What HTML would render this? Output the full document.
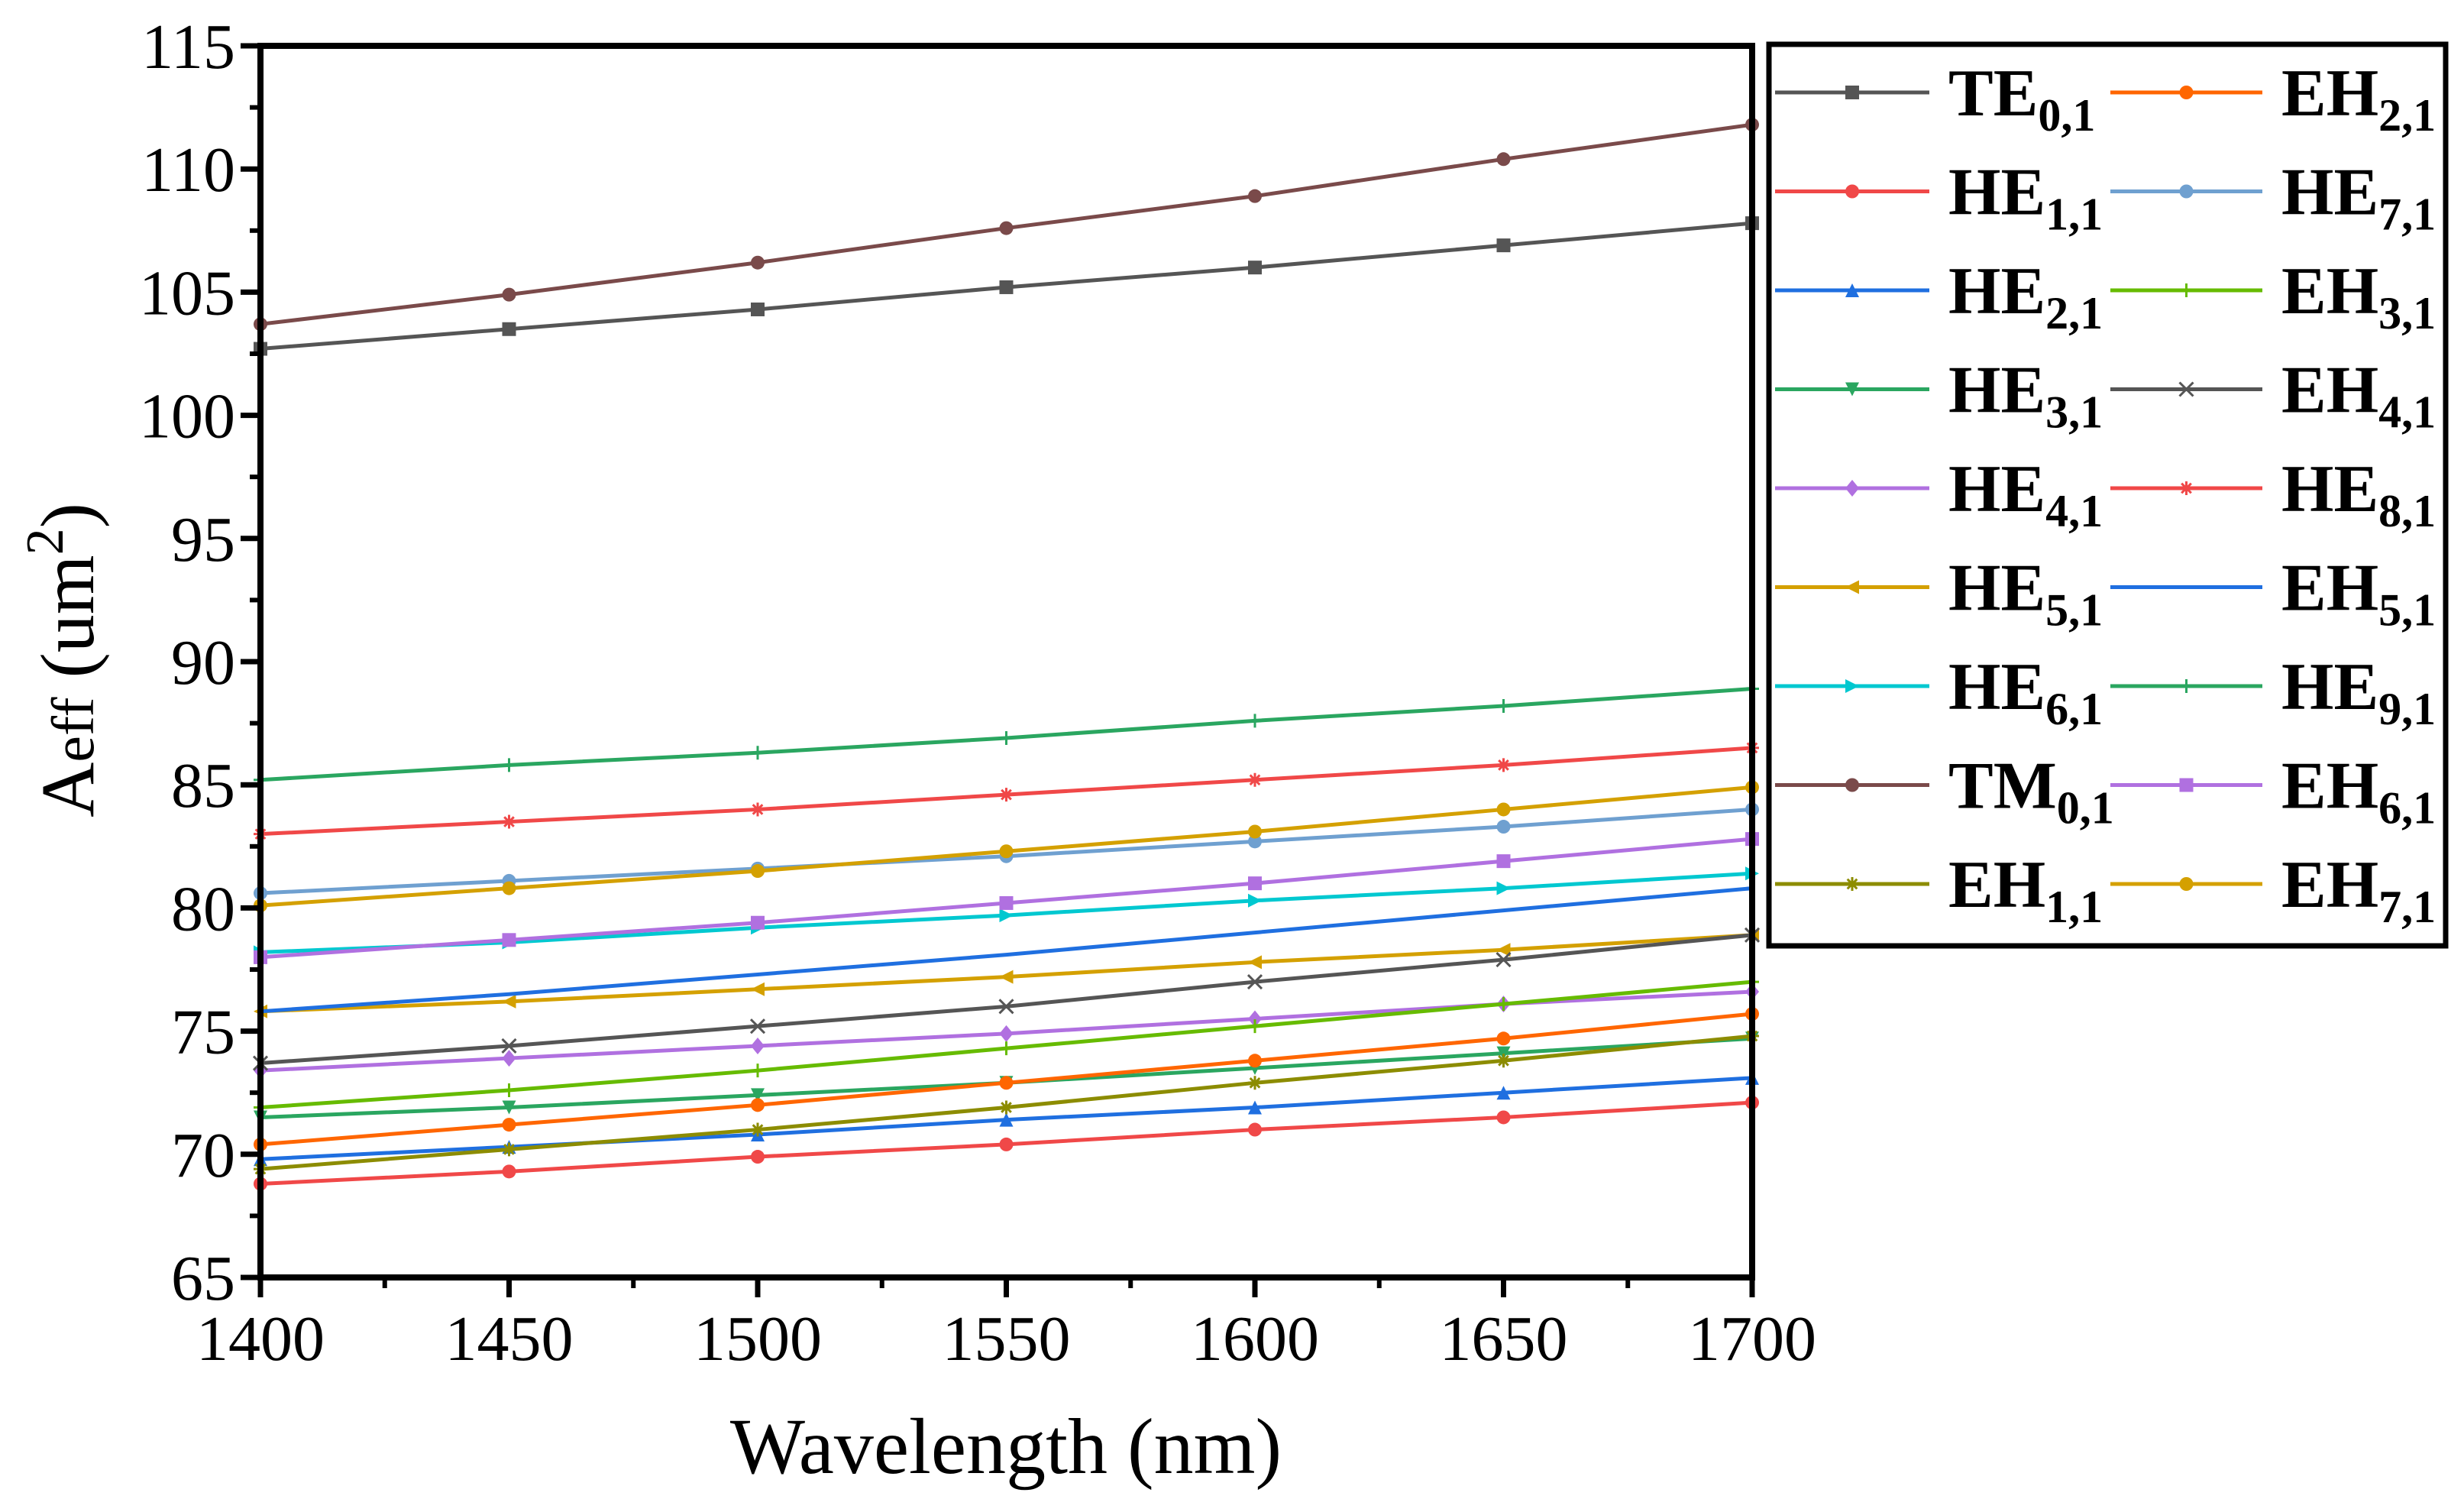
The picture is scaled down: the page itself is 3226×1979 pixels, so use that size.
<!DOCTYPE html>
<html><head><meta charset="utf-8"><style>
html,body{margin:0;padding:0;background:#fff}
svg{display:block}
text{font-family:"Liberation Serif",serif}
</style></head><body>
<svg id="chart" width="3226" height="1979" viewBox="0 0 3226 1979" xmlns="http://www.w3.org/2000/svg">
<g id="plot"></g>
<g id="axes"></g>
<g id="legend"></g>
<text x="1317" y="1928" font-size="104" text-anchor="middle">Wavelength (nm)</text>
<text transform="translate(122,864) rotate(-90)" font-size="100" text-anchor="middle">A<tspan font-size="78" dy="0">eff</tspan> (um<tspan font-size="70" dy="-40">2</tspan><tspan dy="40">)</tspan></text>
</svg>
<script>
const wavelengths = [1400,1450,1500,1550,1600,1650,1700];
const xTicks = [1400,1450,1500,1550,1600,1650,1700];
const yTicks = [65,70,75,80,85,90,95,100,105,110,115];
const seriesNames = ["TE","HE","HE","HE","HE","HE","HE","TM","EH","EH","HE","EH","EH","HE","EH","HE","EH","EH"];
const seriesSubs = ["0,1","1,1","2,1","3,1","4,1","5,1","6,1","0,1","1,1","2,1","7,1","3,1","4,1","8,1","5,1","9,1","6,1","7,1"];
const TE01 = [102.7,103.5,104.3,105.2,106.0,106.9,107.8];
const HE11 = [68.8,69.3,69.9,70.4,71.0,71.5,72.1];
const HE21 = [69.8,70.3,70.8,71.4,71.9,72.5,73.1];
const HE31 = [71.5,71.9,72.4,72.9,73.5,74.1,74.7];
const HE41 = [73.4,73.9,74.4,74.9,75.5,76.1,76.6];
const HE51 = [75.8,76.2,76.7,77.2,77.8,78.3,78.9];
const HE61 = [78.2,78.6,79.2,79.7,80.3,80.8,81.4];
const TM01 = [103.7,104.9,106.2,107.6,108.9,110.4,111.8];
const EH11 = [69.4,70.2,71.0,71.9,72.9,73.8,74.8];
const EH21 = [70.4,71.2,72.0,72.9,73.8,74.7,75.7];
const HE71 = [80.6,81.1,81.6,82.1,82.7,83.3,84.0];
const EH31 = [71.9,72.6,73.4,74.3,75.2,76.1,77.0];
const EH41 = [73.7,74.4,75.2,76.0,77.0,77.9,78.9];
const HE81 = [83.0,83.5,84.0,84.6,85.2,85.8,86.5];
const EH51 = [75.8,76.5,77.3,78.1,79.0,79.9,80.8];
const HE91 = [85.2,85.8,86.3,86.9,87.6,88.2,88.9];
const EH61 = [78.0,78.7,79.4,80.2,81.0,81.9,82.8];
const EH71 = [80.1,80.8,81.5,82.3,83.1,84.0,84.9];

const allSeries = [TE01,HE11,HE21,HE31,HE41,HE51,HE61,TM01,EH11,EH21,HE71,EH31,EH41,HE81,EH51,HE91,EH61,EH71];
const colors = ["#555555","#f04848","#1f6fe0","#2aa660","#b070e0","#d4a000","#00c8d0","#7a4a4a","#8c8c00","#ff6600","#6fa0d0","#66bb00","#555555","#f04848","#1f6fe0","#2aa660","#b070e0","#d4a000"];
const markers = ["square","circle","triangle","tridown","diamond","left","right","circle","star","circle","circle","plus","x","star","none","plus","square","circle"];

const L=341,R=2294,T=60,B=1672;
const xs = v => L + (v-1400)/(1700-1400)*(R-L);
const ys = v => B - (v-65)/(115-65)*(B-T);
const NS="http://www.w3.org/2000/svg";
function mk(tag,attrs,parent){const e=document.createElementNS(NS,tag);for(const k in attrs)e.setAttribute(k,attrs[k]);parent.appendChild(e);return e;}
function marker(type,x,y,c,g){
  const s=9;
  if(type==="none")return;
  let m;
  if(type==="square")m=mk("rect",{x:x-s,y:y-s,width:2*s,height:2*s,fill:c},g);
  else if(type==="circle")m=mk("circle",{cx:x,cy:y,r:s,fill:c},g);
  else if(type==="triangle")m=mk("polygon",{points:`${x},${y-s} ${x-s},${y+s} ${x+s},${y+s}`,fill:c},g);
  else if(type==="tridown")m=mk("polygon",{points:`${x},${y+s} ${x-s},${y-s} ${x+s},${y-s}`,fill:c},g);
  else if(type==="diamond")m=mk("polygon",{points:`${x},${y-s-2} ${x+s},${y} ${x},${y+s+2} ${x-s},${y}`,fill:c},g);
  else if(type==="left")m=mk("polygon",{points:`${x-s},${y} ${x+s},${y-s} ${x+s},${y+s}`,fill:c},g);
  else if(type==="right")m=mk("polygon",{points:`${x+s},${y} ${x-s},${y-s} ${x-s},${y+s}`,fill:c},g);
  else if(type==="plus")m=mk("path",{d:`M${x-s} ${y}H${x+s}M${x} ${y-s}V${y+s}`,stroke:c,"stroke-width":3},g);
  else if(type==="x")m=mk("path",{d:`M${x-s} ${y-s}L${x+s} ${y+s}M${x-s} ${y+s}L${x+s} ${y-s}`,stroke:c,"stroke-width":3},g);
  else if(type==="star")m=mk("path",{d:`M${x-s} ${y}H${x+s}M${x} ${y-s}V${y+s}M${x-s*0.7} ${y-s*0.7}L${x+s*0.7} ${y+s*0.7}M${x-s*0.7} ${y+s*0.7}L${x+s*0.7} ${y-s*0.7}`,stroke:c,"stroke-width":3},g);
  
  
}
const plot=document.getElementById('plot');
allSeries.forEach((vals,i)=>{
  const g=mk("g",{},plot);
  
  
  const pts=vals.map((v,j)=>xs(wavelengths[j])+","+ys(v)).join(" ");
  const pl=mk("polyline",{points:pts,fill:"none",stroke:colors[i],"stroke-width":5},g);
  
  
  vals.forEach((v,j)=>marker(markers[i],xs(wavelengths[j]),ys(v),colors[i],g));
});
const axes=document.getElementById('axes');
const frame=mk("rect",{x:L,y:T,width:R-L,height:B-T,fill:"none",stroke:"#000","stroke-width":8},axes);


xTicks.forEach((v,i)=>{
  const x=xs(v);
  const t=mk("line",{x1:x,y1:B,x2:x,y2:B+26,stroke:"#000","stroke-width":7},axes);
  
  
  if(i<xTicks.length-1){const xm=xs(v+25);const mt=mk("line",{x1:xm,y1:B,x2:xm,y2:B+14,stroke:"#000","stroke-width":6},axes);
  
  }
  const lb=mk("text",{x:x,y:B+108,"font-size":84,"text-anchor":"middle"},axes);
  lb.textContent=v;
  
  
});
yTicks.forEach((v,i)=>{
  const y=ys(v);
  const t=mk("line",{x1:L-26,y1:y,x2:L,y2:y,stroke:"#000","stroke-width":7},axes);
  
  
  if(i<yTicks.length-1){const ym=ys(v+2.5);const mt=mk("line",{x1:L-14,y1:ym,x2:L,y2:ym,stroke:"#000","stroke-width":6},axes);
  
  }
  const lb=mk("text",{x:308,y:y+29,"font-size":84,"text-anchor":"end"},axes);
  lb.textContent=v;
  
  
});
const leg=document.getElementById('legend');
const box=mk("rect",{x:2316,y:58,width:2887-0,height:1180,fill:"#fff",stroke:"#000","stroke-width":7},leg);
box.setAttribute('width',3202-2316);


allSeries.forEach((vals,i)=>{
  const col=i<9?0:1, row=i%9;
  const y=121+row*129.5;
  const x0=col?2763:2324, x1=col?2962:2526, tx=col?2987:2551;
  const g=mk("g",{},leg);
  
  
  const ln=mk("line",{x1:x0,y1:y,x2:x1,y2:y,stroke:colors[i],"stroke-width":5},g);
  
  
  marker(markers[i],(x0+x1)/2,y,colors[i],g);
  const t=mk("text",{x:tx,y:y+30,"font-size":88,"font-weight":"bold"},g);
  
  
  t.textContent=seriesNames[i];
  const sub=mk("tspan",{"font-size":60,dy:20},t);
  sub.textContent=seriesSubs[i];
});
</script>
</body></html>
